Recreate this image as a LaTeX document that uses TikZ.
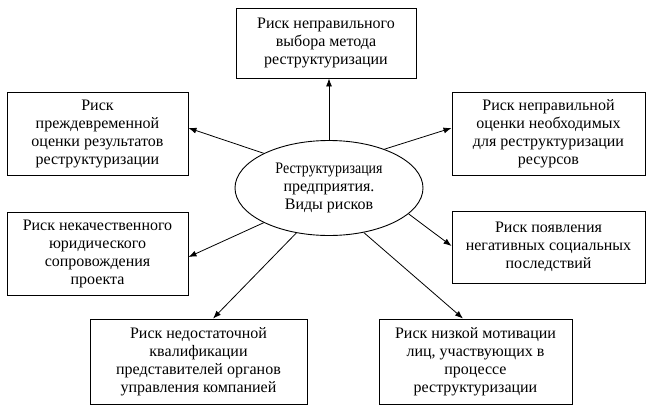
\documentclass[tikz,border=0pt]{standalone}
\usepackage{fontspec}
\usepackage{graphicx}
\setmainfont{Liberation Serif}
\usetikzlibrary{arrows.meta,shapes.geometric}
\begin{document}
\begin{tikzpicture}[x=1pt,y=-1pt,
  box/.style={draw,line width=0.9pt,rectangle,inner sep=0pt,align=center,
    font=\fontsize{16}{18}\selectfont},
  arr/.style={line width=0.8pt,-{Latex[length=8pt,width=6pt]}}]
\useasboundingbox (0,0) rectangle (649,410);
\node[box,minimum width=180pt,minimum height=70pt] (top) at (326,43) {Риск неправильного\\выбора метода\\реструктуризации};
\node[box,minimum width=181pt,minimum height=83pt] (ul) at (97.5,133.5) {Риск\\преждевременной\\оценки результатов\\реструктуризации};
\node[box,minimum width=193pt,minimum height=83pt] (ur) at (548.5,133.5) {Риск неправильной\\оценки необходимых\\для реструктуризации\\ресурсов};
\node[box,minimum width=181pt,minimum height=83pt] (ml) at (97.5,253.5) {Риск некачественного\\юридического\\сопровождения\\проекта};
\node[box,minimum width=193pt,minimum height=72pt] (mr) at (548.5,247) {Риск появления\\негативных социальных\\последствий};
\node[box,minimum width=217pt,minimum height=85pt] (bl) at (198.5,361.5) {Риск недостаточной\\квалификации\\представителей органов\\управления компанией};
\node[box,minimum width=193pt,minimum height=85pt] (br) at (475.5,361.5) {Риск низкой мотивации\\лиц, участвующих в\\процессе\\реструктуризации};
\node[box,ellipse,inner sep=0pt,minimum width=188pt,minimum height=95pt] (ell) at (329,188) {\scalebox{0.87}[1]{Реструктуризация}\\предприятия.\\Виды рисков};
\draw[arr] (ell.north) -- (ell.north |- top.south);
\draw[arr] (ell.152) -- ([yshift=5.5pt]ul.east);
\draw[arr] (ell.35.6) -- ([yshift=5.5pt]ur.west);
\draw[arr] (ell.208) -- ([yshift=-3.5pt]ml.east);
\draw[arr] (ell.342) -- ([yshift=1pt]mr.west);
\draw[arr] (ell.234.7) -- ([xshift=14.5pt]bl.north);
\draw[arr] (ell.308) -- ([xshift=-12.5pt]br.north);
\end{tikzpicture}
\end{document}
